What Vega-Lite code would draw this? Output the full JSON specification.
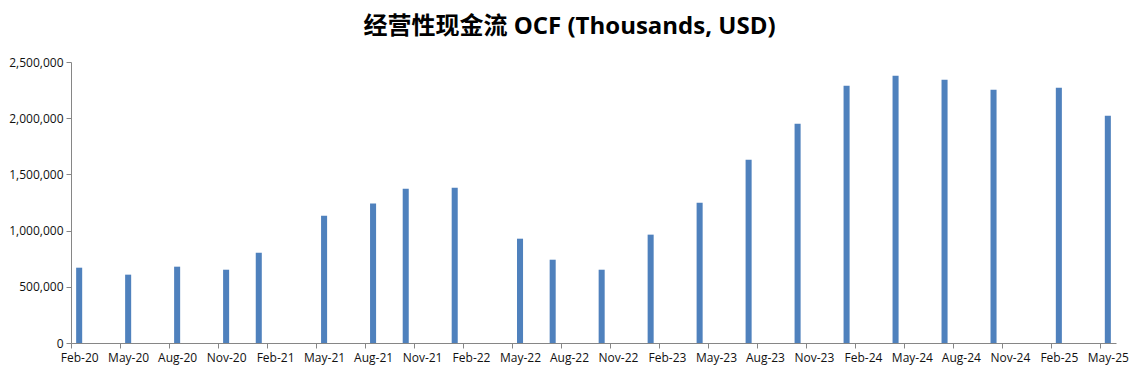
{
  "$schema": "https://vega.github.io/schema/vega-lite/v6.json",
  "autosize": "none",
  "width": 1045,
  "height": 281,
  "padding": {"left": 71, "top": 62, "right": 23, "bottom": 40},
  "background": "white",
  "title": {
    "text": "经营性现金流 OCF (Thousands, USD)",
    "font": "Open Sans, Noto Sans CJK SC",
    "fontSize": 24,
    "fontWeight": "bold",
    "color": "#000000",
    "anchor": "middle",
    "dx": -24,
    "offset": 17
  },
  "config": {"view": {"stroke": null}, "axis": {"grid": false}},
  "data": {
    "values": [
      {"month": "2020-02", "value": 670000},
      {"month": "2020-05", "value": 608000},
      {"month": "2020-08", "value": 679000},
      {"month": "2020-11", "value": 652000},
      {"month": "2021-01", "value": 803000},
      {"month": "2021-05", "value": 1133000},
      {"month": "2021-08", "value": 1240000},
      {"month": "2021-10", "value": 1373000},
      {"month": "2022-01", "value": 1382000},
      {"month": "2022-05", "value": 928000},
      {"month": "2022-07", "value": 741000},
      {"month": "2022-10", "value": 652000},
      {"month": "2023-01", "value": 964000},
      {"month": "2023-04", "value": 1248000},
      {"month": "2023-07", "value": 1631000},
      {"month": "2023-10", "value": 1951000},
      {"month": "2024-01", "value": 2289000},
      {"month": "2024-04", "value": 2378000},
      {"month": "2024-07", "value": 2343000},
      {"month": "2024-10", "value": 2254000},
      {"month": "2025-02", "value": 2271000},
      {"month": "2025-05", "value": 2022000}
    ]
  },
  "mark": {"type": "bar", "color": "#4F81BD"},
  "encoding": {
    "x": {
      "field": "month",
      "type": "ordinal",
      "scale": {
        "domain": ["2020-02","2020-03","2020-04","2020-05","2020-06","2020-07","2020-08","2020-09","2020-10","2020-11","2020-12",
                   "2021-01","2021-02","2021-03","2021-04","2021-05","2021-06","2021-07","2021-08","2021-09","2021-10","2021-11","2021-12",
                   "2022-01","2022-02","2022-03","2022-04","2022-05","2022-06","2022-07","2022-08","2022-09","2022-10","2022-11","2022-12",
                   "2023-01","2023-02","2023-03","2023-04","2023-05","2023-06","2023-07","2023-08","2023-09","2023-10","2023-11","2023-12",
                   "2024-01","2024-02","2024-03","2024-04","2024-05","2024-06","2024-07","2024-08","2024-09","2024-10","2024-11","2024-12",
                   "2025-01","2025-02","2025-03","2025-04","2025-05"],
        "paddingInner": 0.63,
        "paddingOuter": 0.315
      },
      "axis": {
        "title": null,
        "values": ["2020-02","2020-05","2020-08","2020-11","2021-02","2021-05","2021-08","2021-11","2022-02","2022-05","2022-08","2022-11",
                   "2023-02","2023-05","2023-08","2023-11","2024-02","2024-05","2024-08","2024-11","2025-02","2025-05"],
        "labelExpr": "utcFormat(toDate(datum.value + '-15'), '%b-%y')",
        "labelAngle": 0,
        "tickOffset": -8.17,
        "labelOffset": 8.17,
        "tickSize": 5,
        "domainColor": "#868686",
        "tickColor": "#868686",
        "labelFont": "Open Sans",
        "labelFontSize": 12,
        "labelColor": "#111111",
        "labelPadding": 4
      }
    },
    "y": {
      "field": "value",
      "type": "quantitative",
      "scale": {"domain": [0, 2500000], "nice": false},
      "axis": {
        "title": null,
        "values": [0, 500000, 1000000, 1500000, 2000000, 2500000],
        "format": ",.0f",
        "tickSize": 5,
        "domainColor": "#868686",
        "tickColor": "#868686",
        "labelFont": "Open Sans",
        "labelFontSize": 12,
        "labelColor": "#111111",
        "labelPadding": 3
      }
    }
  }
}
